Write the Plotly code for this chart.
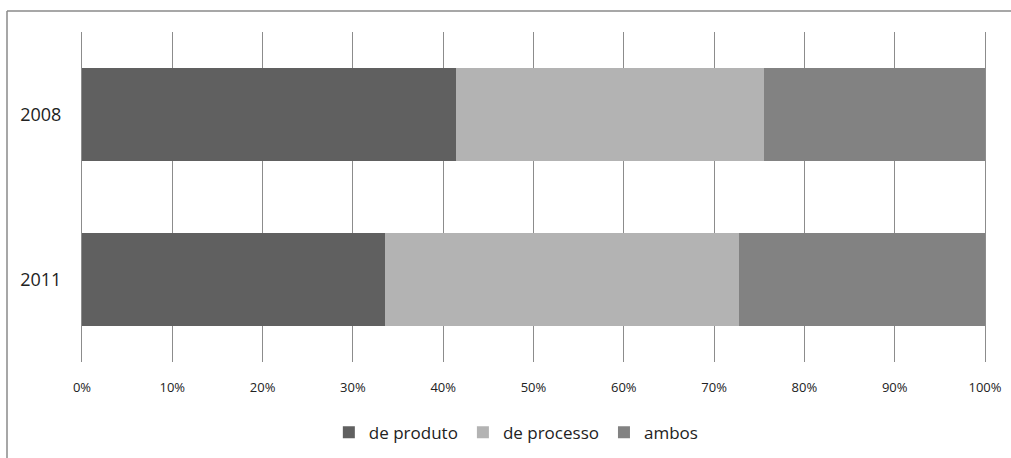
import plotly.graph_objects as go

years = ["2008", "2011"]
de_produto = [41.4, 33.6]
de_processo = [34.1, 39.2]
ambos = [24.5, 27.2]
tick_vals = [0, 10, 20, 30, 40, 50, 60, 70, 80, 90, 100]
tick_text = ["0%", "10%", "20%", "30%", "40%", "50%", "60%", "70%", "80%", "90%", "100%"]

series = [
    ("de produto", de_produto, "#606060"),
    ("de processo", de_processo, "#b3b3b3"),
    ("ambos", ambos, "#828282"),
]

fig = go.Figure()
for name, vals, color in series:
    fig.add_trace(go.Bar(
        y=years, x=vals, name=name, orientation="h",
        marker=dict(color=color, line=dict(width=0)),
        width=0.56,
    ))

bx0 = -75 / 903
by1 = 1 + 21 / 330
border = dict(color="#8a8a8a", width=1.5)

fig.update_layout(
    barmode="stack",
    width=1011, height=458,
    margin=dict(l=82, r=26, t=32, b=96, autoexpand=False),
    paper_bgcolor="white", plot_bgcolor="white",
    font=dict(family="'Open Sans', Lato, sans-serif", color="#222222"),
    showlegend=True,
    legend=dict(orientation="h", x=0.481, xanchor="center", y=-0.16, yanchor="top",
                font=dict(size=17, color="#222222"), traceorder="normal",
                itemwidth=30, itemsizing="constant"),
    xaxis=dict(range=[0, 100], tickvals=tick_vals, ticktext=tick_text,
               showgrid=True, gridcolor="#8c8c8c", gridwidth=1,
               zeroline=False, showline=False, ticks="",
               ticklabelstandoff=16, tickfont=dict(size=13, color="#222222")),
    yaxis=dict(categoryorder="array", categoryarray=["2011", "2008"],
               showgrid=False, zeroline=False, ticks="",
               showline=True, mirror=True, linecolor="#8c8c8c", linewidth=1,
               ticklabelstandoff=16, tickfont=dict(size=18, color="#222222")),
    shapes=[
        dict(type="line", xref="paper", yref="paper",
             x0=bx0, x1=1.3, y0=by1, y1=by1, line=border, layer="below"),
        dict(type="line", xref="paper", yref="paper",
             x0=bx0, x1=bx0, y0=-0.6, y1=by1, line=border, layer="below"),
    ],
)

fig.write_html("out.html")
